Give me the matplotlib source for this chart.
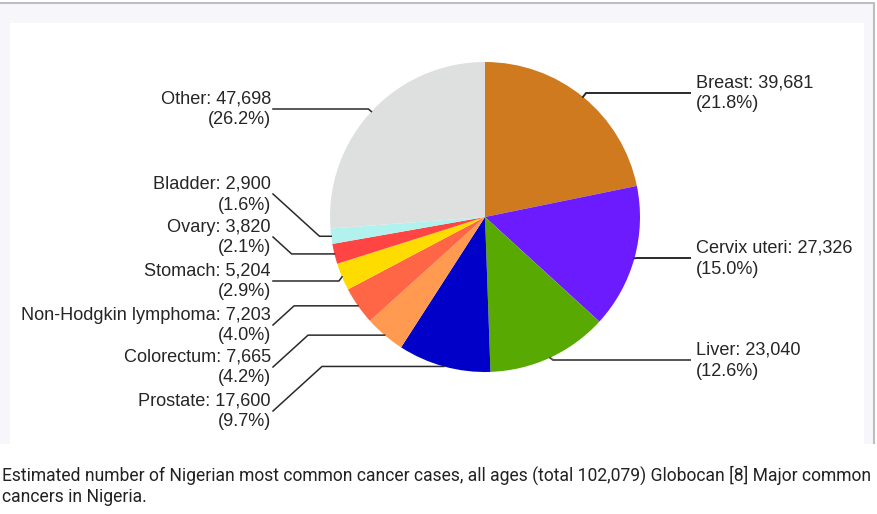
import math
import matplotlib
matplotlib.use("Agg")
import matplotlib.pyplot as plt
from matplotlib.patches import Rectangle

# ---- data ----
categories = ["Breast", "Cervix uteri", "Liver", "Prostate", "Colorectum",
              "Non-Hodgkin lymphoma", "Stomach", "Ovary", "Bladder", "Other"]
cases = [39681, 27326, 23040, 17600, 7665, 7203, 5204, 3820, 2900, 47698]
percent_labels = ["21.8%", "15.0%", "12.6%", "9.7%", "4.2%", "4.0%", "2.9%", "2.1%", "1.6%", "26.2%"]
slice_colors = ["#CF7A1F", "#6C1BFF", "#58AA03", "#0000C8", "#FF9A50",
                "#FF6646", "#FFDC00", "#FF4444", "#B2F2EE", "#DEE0E0"]
caption_lines = [
    "Estimated number of Nigerian most common cancer cases, all ages (total 102,079) Globocan [8] Major common",
    "cancers in Nigeria.",
]

# ---- layout (pixels, y measured from top) ----
W, H = 878, 514
CX, CY, R = 485, 217, 155
label_y = {"Breast": 83, "Cervix uteri": 248, "Liver": 350,
           "Other": 99, "Bladder": 184, "Ovary": 227, "Stomach": 271,
           "Non-Hodgkin lymphoma": 315, "Colorectum": 357, "Prostate": 401}
right_side = {"Breast", "Cervix uteri", "Liver"}

fig = plt.figure(figsize=(W / 100, H / 100), dpi=100)
fig.patch.set_facecolor("white")
ax = fig.add_axes([0, 0, 1, 1])

def Y(y):
    return H - y

# frame
ax.add_patch(Rectangle((0, Y(444)), 874.5, 444 - 2.5, facecolor="#F7F7FB", edgecolor="none", zorder=0))
ax.add_patch(Rectangle((10, Y(444)), 854, 444 - 23, facecolor="white", edgecolor="none", zorder=0.5))
ax.plot([0, 875], [Y(2.5), Y(2.5)], color="#BDBDC2", lw=1.5, zorder=1, solid_capstyle="butt")
ax.plot([874.5, 874.5], [Y(2.5), Y(444)], color="#BDBDC2", lw=1.5, zorder=1, solid_capstyle="butt")

wedges, _ = ax.pie(cases, colors=slice_colors, startangle=90, counterclock=False,
                   center=(CX, Y(CY)), radius=R, wedgeprops=dict(linewidth=0))
for w in wedges:
    w.set_zorder(2)

ax.set_xlim(0, W)
ax.set_ylim(0, H)
ax.set_aspect("auto")
ax.axis("off")

font = dict(family=["Liberation Sans", "DejaVu Sans"], fontsize=13.05, color="#262626")
line_col = "#2A2A2A"

for w, cat, val, pct in zip(wedges, categories, cases, percent_labels):
    mid = math.radians((w.theta1 + w.theta2) / 2)
    ex = CX + R * math.cos(mid)
    ey = CY - R * math.sin(mid)
    ly = label_y[cat]
    lly = ly + 10
    if cat in right_side:
        xs = [ex, ex + 3, 690]
        ys = [ey, lly, lly]
        col = "#555555" if cat == "Liver" else line_col
        ax.plot(xs, [Y(v) for v in ys], color=col, lw=1.4, zorder=3)
        ax.text(696, Y(ly), f"{cat}: {val:,}", ha="left", va="center", zorder=4, **font)
        ax.text(696, Y(ly + 21), f"({pct})", ha="left", va="center", zorder=4, **font)
    else:
        dy = abs(ey - lly)
        if dy < 6:
            xs = [273, ex - 3, ex]
            ys = [lly, lly, ey]
        else:
            elbow = 273 + 1.1 * dy
            xs = [273, elbow, ex]
            ys = [lly, ey, ey]
        ax.plot(xs, [Y(v) for v in ys], color=line_col, lw=1.1, zorder=3)
        ax.text(271, Y(ly), f"{cat}: {val:,}", ha="right", va="center", zorder=4, **font)
        ax.text(271, Y(ly + 21), f"({pct})", ha="right", va="center", zorder=4, **font)

cap_font = dict(family=["Roboto", "DejaVu Sans"], fontsize=12.65, color="#222222")
ax.text(2, Y(475), caption_lines[0], ha="left", va="center", **cap_font)
ax.text(2, Y(497), caption_lines[1], ha="left", va="center", **cap_font)

fig.savefig("out.png", dpi=100, facecolor="white")
